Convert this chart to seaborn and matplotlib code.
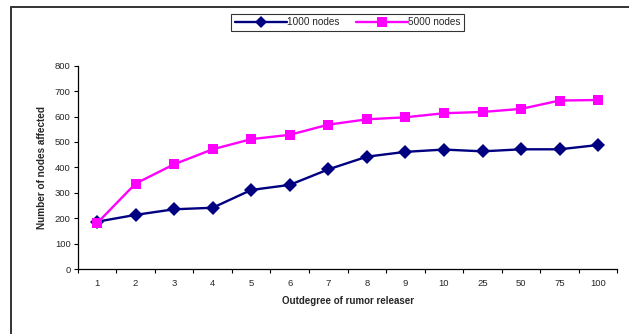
import matplotlib
matplotlib.use("Agg")
from matplotlib import pyplot as plt
from matplotlib.lines import Line2D
from matplotlib.ticker import FixedLocator, NullFormatter
import pandas as pd
import seaborn as sns

outdegree = ["1", "2", "3", "4", "5", "6", "7", "8", "9", "10", "25", "50", "75", "100"]
nodes_1000 = [186, 213, 235, 241, 311, 331, 392, 442, 461, 470, 463, 471, 471, 488]
nodes_5000 = [180, 336, 412, 471, 511, 528, 568, 589, 597, 613, 618, 630, 663, 665]
series_names = ["1000 nodes", "5000 nodes"]

df = pd.DataFrame({
    "outdegree": outdegree * 2,
    "affected": nodes_1000 + nodes_5000,
    "series": [series_names[0]] * len(outdegree) + [series_names[1]] * len(outdegree),
})

sns.set_theme(style="white")
plt.rcParams['font.family'] = ['Liberation Sans', 'DejaVu Sans']

fig = plt.figure(figsize=(6.29, 3.34), dpi=100)
ax = fig.add_axes([0.1235, 0.1946, 0.8582, 0.6087])

sns.lineplot(data=df, x="outdegree", y="affected", hue="series", style="series",
             palette=["#000080", "#FF00FF"], markers=["D", "s"], dashes=False,
             linewidth=1.7, markersize=7, markeredgewidth=0, sort=False,
             ax=ax, legend=False)

ax.set_xlim(-0.5, len(outdegree) - 0.5)
ax.set_ylim(0, 800)
ax.set_yticks(range(0, 801, 100))
ax.tick_params(axis="y", labelsize=6.8, length=3, width=0.8, color="black",
               direction="out", left=True, pad=2)
ax.tick_params(axis="x", which="major", labelsize=6.8, length=0, pad=7)
ax.xaxis.set_minor_locator(FixedLocator([i - 0.5 for i in range(len(outdegree) + 1)]))
ax.xaxis.set_minor_formatter(NullFormatter())
ax.tick_params(axis="x", which="minor", length=3, width=0.8, color="black",
               direction="out", bottom=True)

for side in ["top", "right"]:
    ax.spines[side].set_visible(False)
for side in ["left", "bottom"]:
    ax.spines[side].set_color("black")
    ax.spines[side].set_linewidth(0.9)

ax.set_xlabel("Outdegree of rumor releaser", fontsize=7.0, fontweight="bold", labelpad=6)
ax.set_ylabel("Number of nodes affected", fontsize=7.2, fontweight="bold", labelpad=6)

handles = [
    Line2D([], [], color="#000080", marker="D", markersize=6, linewidth=1.7, markeredgewidth=0),
    Line2D([], [], color="#FF00FF", marker="s", markersize=7, linewidth=1.7, markeredgewidth=0),
]
leg = fig.legend(handles, series_names, loc="center", bbox_to_anchor=(0.553, 0.933),
                 ncol=2, fontsize=7.2, frameon=True, fancybox=False, handlelength=5.2,
                 handletextpad=0.05, columnspacing=1.6, borderpad=0.35)
leg.get_frame().set_edgecolor("black")
leg.get_frame().set_linewidth(0.8)

# outer frame (left and top edges visible in the reference)
fig.add_artist(Line2D([0.0167, 0.0167], [0.0, 0.9805], color="#333333", linewidth=1.4,
                      transform=fig.transFigure))
fig.add_artist(Line2D([0.0167, 1.0], [0.9805, 0.9805], color="#333333", linewidth=1.4,
                      transform=fig.transFigure))

fig.savefig("out.png", dpi=100)
